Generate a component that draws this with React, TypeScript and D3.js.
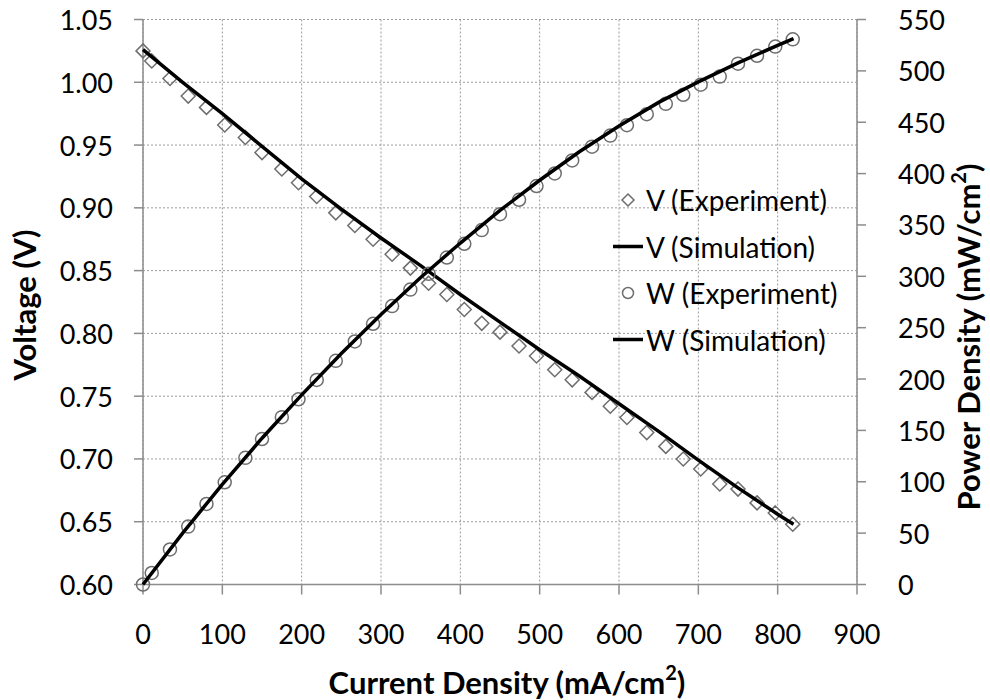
import React from 'react';
import * as d3 from 'd3';

const expCurrent = [0, 11, 34, 57, 80, 103, 129, 150, 175, 196, 219, 243, 267, 290, 314, 337, 360, 383, 405, 427, 450, 474, 496, 519, 541, 566, 589, 610, 635, 659, 681, 703, 727, 750, 774, 797, 819];
const expVoltage = [1.025, 1.017, 1.003, 0.989, 0.98, 0.966, 0.956, 0.944, 0.931, 0.92, 0.909, 0.896, 0.886, 0.875, 0.863, 0.852, 0.84, 0.831, 0.819, 0.808, 0.801, 0.79, 0.782, 0.771, 0.763, 0.753, 0.742, 0.733, 0.721, 0.71, 0.7, 0.692, 0.68, 0.676, 0.665, 0.657, 0.648];
const expPower = [0, 11.2, 34.1, 56.4, 78.4, 99.5, 123.3, 141.6, 162.9, 180.3, 199.1, 217.7, 236.6, 253.8, 271.0, 287.1, 302.4, 318.3, 331.7, 345.0, 360.5, 374.5, 387.9, 400.1, 412.8, 426.2, 437.0, 447.1, 457.8, 467.9, 476.7, 486.5, 494.4, 507.0, 514.7, 523.6, 530.7];

const simCurrent = [0, 50, 100, 150, 200, 250, 300, 350, 400, 450, 500, 550, 600, 650, 700, 750, 800, 820];
const simVoltage = [1.026, 1.0, 0.975, 0.949, 0.923, 0.899, 0.876, 0.854, 0.831, 0.809, 0.787, 0.766, 0.744, 0.722, 0.699, 0.677, 0.656, 0.648];
const simPower = [0, 50.0, 97.5, 142.4, 184.6, 224.8, 262.8, 298.9, 332.4, 364.1, 393.5, 421.3, 446.4, 469.3, 489.3, 507.8, 524.8, 531.4];

const xTicks = [0, 100, 200, 300, 400, 500, 600, 700, 800, 900];
const yTicks = [0.6, 0.65, 0.7, 0.75, 0.8, 0.85, 0.9, 0.95, 1.0, 1.05];
const y2Ticks = [0, 50, 100, 150, 200, 250, 300, 350, 400, 450, 500, 550];
const legendLabels = ['V (Experiment)', 'V (Simulation)', 'W (Experiment)', 'W (Simulation)'];

const L = 143, R = 857, T = 19.5, B = 584.5;
const FONT = 'Lato, "Noto Sans", sans-serif';
const FS = 27;
const TFS = 31;
const LFS = 28;

export default function App() {
  const x = d3.scaleLinear().domain([0, 900]).range([L, R]);
  const y = d3.scaleLinear().domain([0.6, 1.05]).range([B, T]);
  const y2 = d3.scaleLinear().domain([0, 550]).range([B, T]);

  const vLine = d3.line<number>().x((_, i) => x(simCurrent[i])).y((d) => y(d));
  const wLine = d3.line<number>().x((_, i) => x(simCurrent[i])).y((d) => y2(d));
  const diamond = (cx: number, cy: number, s = 7) => `M${cx},${cy - s}L${cx + s},${cy}L${cx},${cy + s}L${cx - s},${cy}Z`;

  const gridColor = '#9a9a9a';
  const axisColor = '#8c8c8c';
  const markerStroke = '#6e6e6e';

  const legX = 628;
  const legY = [200, 246.5, 293, 339.5];

  return (
    <svg width={990} height={700} style={{ position: 'absolute', left: 0, top: 0, background: '#fff' }} fontFamily={FONT}>
      <rect x={0} y={0} width={990} height={700} fill="#fff" />
      {yTicks.map((t) => (
        <line key={'gy' + t} x1={L} x2={R} y1={y(t)} y2={y(t)} stroke={gridColor} strokeWidth={1} strokeDasharray="2,2" />
      ))}
      {xTicks.map((t) => (
        <line key={'gx' + t} x1={x(t)} x2={x(t)} y1={T} y2={B} stroke={gridColor} strokeWidth={1} strokeDasharray="2,2" />
      ))}
      <line x1={L} x2={L} y1={T} y2={B} stroke={axisColor} strokeWidth={1.5} />
      <line x1={R} x2={R} y1={T} y2={B} stroke={axisColor} strokeWidth={1.5} />
      <line x1={L} x2={R} y1={B} y2={B} stroke={axisColor} strokeWidth={1.5} />
      {yTicks.map((t) => (
        <g key={'ty' + t}>
          <line x1={L - 9} x2={L} y1={y(t)} y2={y(t)} stroke={axisColor} strokeWidth={1.5} />
          <text x={113} y={y(t)} textAnchor="end" dominantBaseline="central" fontSize={FS} fill="#000">{t.toFixed(2)}</text>
        </g>
      ))}
      {y2Ticks.map((t) => (
        <g key={'ty2' + t}>
          <line x1={R} x2={R + 9} y1={y2(t)} y2={y2(t)} stroke={axisColor} strokeWidth={1.5} />
          <text x={898} y={y2(t)} textAnchor="start" dominantBaseline="central" fontSize={FS} fill="#000">{t}</text>
        </g>
      ))}
      {xTicks.map((t) => (
        <g key={'tx' + t}>
          <line x1={x(t)} x2={x(t)} y1={B} y2={B + 10} stroke={axisColor} strokeWidth={1.5} />
          <text x={x(t)} y={633} textAnchor="middle" dominantBaseline="central" fontSize={FS} fill="#000">{t}</text>
        </g>
      ))}
      <text x={507} y={682} textAnchor="middle" dominantBaseline="central" fontSize={TFS} fontWeight="bold" fill="#000">
        Current Density (mA/cm<tspan dy={-10} fontSize={20}>2</tspan><tspan dy={10}>)</tspan>
      </text>
      <text transform={`translate(24,305) rotate(-90)`} textAnchor="middle" dominantBaseline="central" fontSize={TFS} fontWeight="bold" fill="#000">
        Voltage (V)
      </text>
      <text transform={`translate(968,337) rotate(-90)`} textAnchor="middle" dominantBaseline="central" fontSize={TFS} fontWeight="bold" fill="#000">
        Power Density (mW/cm<tspan dy={-10} fontSize={20}>2</tspan><tspan dy={10}>)</tspan>
      </text>
      {expCurrent.map((c, i) => (
        <path key={'vd' + i} d={diamond(x(c), y(expVoltage[i]))} fill="none" stroke={markerStroke} strokeWidth={1.5} />
      ))}
      <path d={vLine(simVoltage) || ''} fill="none" stroke="#000" strokeWidth={3.5} />
      {expCurrent.map((c, i) => (
        <circle key={'wc' + i} cx={x(c)} cy={y2(expPower[i])} r={6.5} fill="none" stroke={markerStroke} strokeWidth={1.5} />
      ))}
      <path d={wLine(simPower) || ''} fill="none" stroke="#000" strokeWidth={3.5} />
      <path d={diamond(legX, legY[0], 6)} fill="none" stroke={markerStroke} strokeWidth={1.5} />
      <line x1={613} x2={643} y1={legY[1]} y2={legY[1]} stroke="#000" strokeWidth={3.5} />
      <circle cx={legX} cy={legY[2]} r={5.5} fill="none" stroke={markerStroke} strokeWidth={1.5} />
      <line x1={613} x2={643} y1={legY[3]} y2={legY[3]} stroke="#000" strokeWidth={3.5} />
      {legendLabels.map((l, i) => (
        <text key={l} x={646} y={legY[i]} dominantBaseline="central" fontSize={LFS} fill="#000">{l}</text>
      ))}
    </svg>
  );
}
